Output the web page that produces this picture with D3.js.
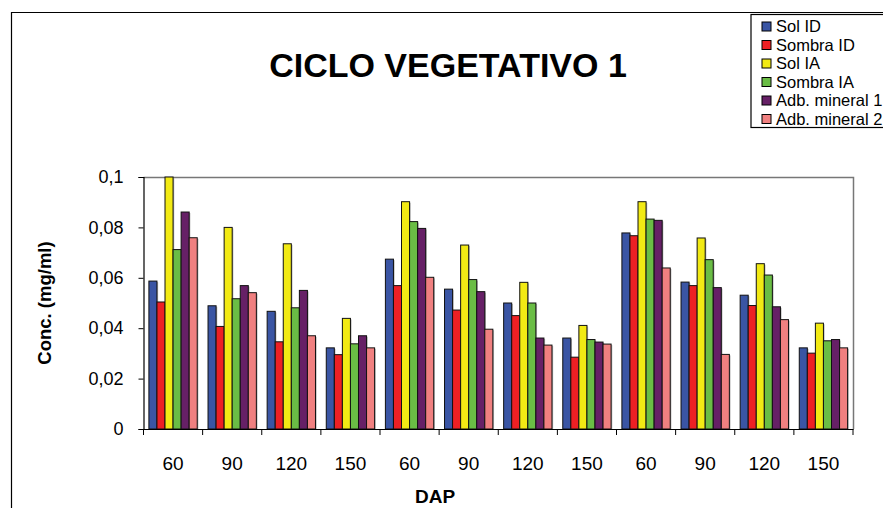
<!DOCTYPE html>
<html>
<head>
<meta charset="utf-8">
<script src="https://cdn.jsdelivr.net/npm/d3@7"></script>
<style>
  body { margin: 0; background: #fff; }
  svg { display: block; font-family: "Liberation Sans", Arial, sans-serif; }
</style>
</head>
<body>
<div id="chart"></div>
<script>
// DAP labels (3 blocks of 4 sampling dates)
const dapLabels = ['60', '90', '120', '150', '60', '90', '120', '150', '60', '90', '120', '150'];

const seriesNames = ['Sol ID', 'Sombra ID', 'Sol IA', 'Sombra IA', 'Adb. mineral 1', 'Adb. mineral 2'];
const seriesColors = ['#3a55a4', '#ed2024', '#f2ea14', '#6abd45', '#662066', '#f08080'];

const solID      = [0.0587, 0.0489, 0.0467, 0.0322, 0.0674, 0.0555, 0.0500, 0.0361, 0.0778, 0.0583, 0.0531, 0.0322];
const sombraID   = [0.0504, 0.0407, 0.0346, 0.0295, 0.0569, 0.0472, 0.0450, 0.0285, 0.0767, 0.0569, 0.0490, 0.0301];
const solIA      = [0.1000, 0.0800, 0.0735, 0.0439, 0.0902, 0.0730, 0.0582, 0.0411, 0.0902, 0.0758, 0.0656, 0.0420];
const sombraIA   = [0.0712, 0.0517, 0.0481, 0.0338, 0.0823, 0.0593, 0.0500, 0.0355, 0.0833, 0.0672, 0.0611, 0.0350];
const mineral1   = [0.0861, 0.0569, 0.0550, 0.0370, 0.0796, 0.0545, 0.0361, 0.0345, 0.0828, 0.0561, 0.0485, 0.0355];
const mineral2   = [0.0759, 0.0541, 0.0370, 0.0322, 0.0602, 0.0396, 0.0333, 0.0337, 0.0639, 0.0296, 0.0434, 0.0322];

const seriesValues = [solID, sombraID, solIA, sombraIA, mineral1, mineral2];
const yTicks = [0, 0.02, 0.04, 0.06, 0.08, 0.1];

const width = 883, height = 508;
const plot = { left: 143.5, right: 853, top: 177, bottom: 429 };

const svg = d3.select('#chart').append('svg')
    .attr('width', width)
    .attr('height', height);

// outer chart frame (left and top edges visible)
svg.append('path')
    .attr('d', `M11.5,${height} V12.5 H${width}`)
    .attr('fill', 'none')
    .attr('stroke', '#000')
    .attr('stroke-width', 1.2);

// title
svg.append('text')
    .attr('x', 448)
    .attr('y', 77)
    .attr('text-anchor', 'middle')
    .attr('font-size', 34)
    .attr('font-weight', 'bold')
    .text('CICLO VEGETATIVO 1');

// scales
const x0 = d3.scaleBand()
    .domain(d3.range(dapLabels.length))
    .range([plot.left, plot.right])
    .padding(0);

const x1 = d3.scaleBand()
    .domain(d3.range(seriesNames.length))
    .range([0, x0.bandwidth()])
    .paddingInner(0)
    .paddingOuter(0.67);

const y = d3.scaleLinear()
    .domain([0, 0.1])
    .range([plot.bottom, plot.top]);

// plot frame top/right
svg.append('path')
    .attr('d', `M${plot.left},${plot.top + 0.5} H${plot.right + 0.5} V${plot.bottom}`)
    .attr('fill', 'none')
    .attr('stroke', '#777')
    .attr('stroke-width', 1.5);

// bars
const groups = svg.append('g')
    .selectAll('g')
    .data(dapLabels.map((d, i) => i))
    .join('g')
    .attr('transform', i => `translate(${x0(i)},0)`);

const barData = i => seriesValues.map((vals, s) => ({ s, v: vals[i] }));

// light shadow behind bars
groups.selectAll('rect.shadow')
    .data(barData)
    .join('rect')
    .attr('class', 'shadow')
    .attr('x', d => x1(d.s) + 1.2)
    .attr('y', d => y(d.v) + 1)
    .attr('width', x1.bandwidth())
    .attr('height', d => plot.bottom - y(d.v) - 1)
    .attr('fill', '#bbb');

groups.selectAll('rect.bar')
    .data(barData)
    .join('rect')
    .attr('class', 'bar')
    .attr('x', d => x1(d.s))
    .attr('y', d => y(d.v))
    .attr('width', x1.bandwidth())
    .attr('height', d => plot.bottom - y(d.v))
    .attr('fill', d => seriesColors[d.s])
    .attr('stroke', '#111')
    .attr('stroke-width', 1);

// y axis
const yAxis = svg.append('g')
    .attr('transform', `translate(${plot.left},0)`)
    .call(d3.axisLeft(y)
        .tickValues(yTicks)
        .tickSize(5)
        .tickPadding(15)
        .tickFormat(d => d3.format('~g')(d).replace('.', ',')));
yAxis.select('.domain').attr('stroke', '#000').attr('stroke-width', 1.2);
yAxis.selectAll('.tick line').attr('stroke', '#000');
yAxis.selectAll('.tick text')
    .attr('font-size', 18)
    .attr('font-family', '"Liberation Sans", Arial, sans-serif')
    .attr('fill', '#000');

// x axis: ticks at group boundaries
const xAxisG = svg.append('g');
xAxisG.append('line')
    .attr('x1', plot.left).attr('x2', plot.right + 0.5)
    .attr('y1', plot.bottom + 0.5).attr('y2', plot.bottom + 0.5)
    .attr('stroke', '#000')
    .attr('stroke-width', 1.2);

const boundaries = d3.range(dapLabels.length + 1)
    .map(i => i < dapLabels.length ? x0(i) : x0(i - 1) + x0.bandwidth());
xAxisG.selectAll('line.tick')
    .data(boundaries)
    .join('line')
    .attr('class', 'tick')
    .attr('x1', d => d).attr('x2', d => d)
    .attr('y1', plot.bottom).attr('y2', plot.bottom + 6)
    .attr('stroke', '#000');

xAxisG.selectAll('text')
    .data(dapLabels.map((d, i) => ({ d, i })))
    .join('text')
    .attr('x', d => x0(d.i) + x0.bandwidth() / 2)
    .attr('y', 470)
    .attr('text-anchor', 'middle')
    .attr('font-size', 19)
    .text(d => d.d);

// axis titles
svg.append('text')
    .attr('x', 435)
    .attr('y', 503)
    .attr('text-anchor', 'middle')
    .attr('font-size', 19)
    .attr('font-weight', 'bold')
    .text('DAP');

svg.append('text')
    .attr('transform', 'translate(51,303) rotate(-90)')
    .attr('text-anchor', 'middle')
    .attr('font-size', 18.5)
    .attr('font-weight', 'bold')
    .text('Conc. (mg/ml)');

// legend
const legend = svg.append('g');
legend.append('rect')
    .attr('x', 751)
    .attr('y', 14.5)
    .attr('width', 140)
    .attr('height', 113)
    .attr('fill', '#fff')
    .attr('stroke', '#000')
    .attr('stroke-width', 1.2);

const items = legend.selectAll('g.item')
    .data(seriesNames)
    .join('g')
    .attr('class', 'item')
    .attr('transform', (d, i) => `translate(762,${26.5 + i * 18.5})`);

items.append('rect')
    .attr('x', 0)
    .attr('y', -4.5)
    .attr('width', 9)
    .attr('height', 9)
    .attr('fill', (d, i) => seriesColors[i])
    .attr('stroke', '#000');

items.append('text')
    .attr('x', 14)
    .attr('y', 5.5)
    .attr('font-size', 16.5)
    .text(d => d);
</script>
</body>
</html>
